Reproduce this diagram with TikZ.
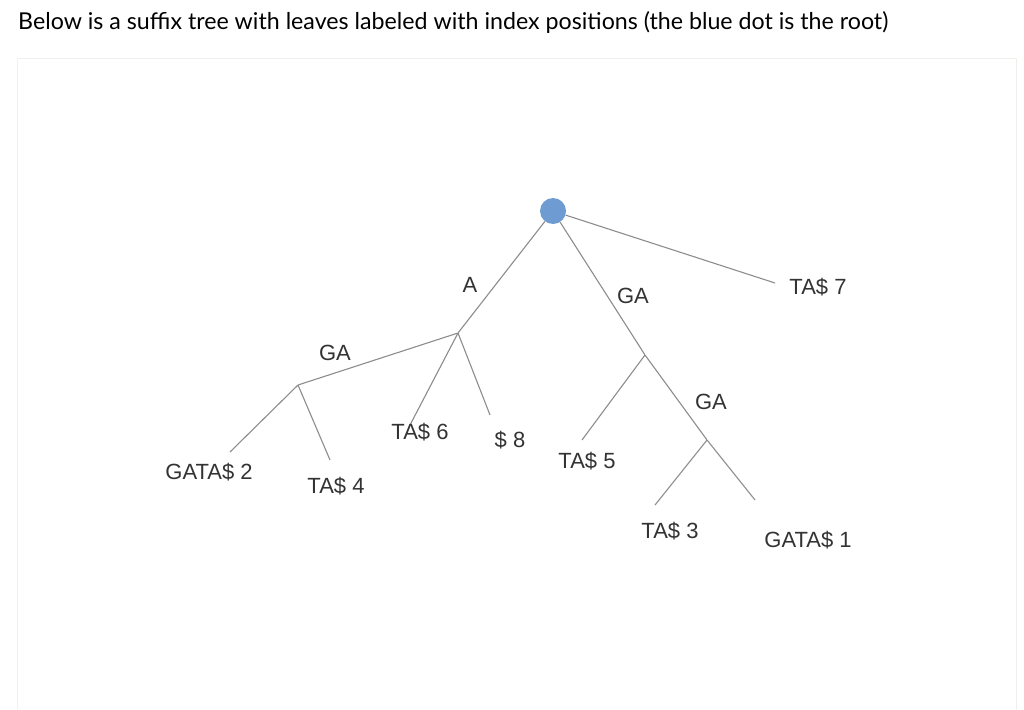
\documentclass[tikz,border=0pt]{standalone}
\usepackage{fontspec}
\setmainfont{Liberation Sans}
\newfontfamily\titlefont{Lato}
\begin{document}
\begin{tikzpicture}[x=1pt,y=-1pt,
  edge/.style={draw=gray!90,line width=1.1pt},
  lbl/.style={font=\fontsize{22}{24}\selectfont,text=black!80,inner sep=0pt},
  pt/.style={inner sep=0pt,minimum size=0pt}]
\useasboundingbox (0,0) rectangle (1024,709);
\node[anchor=west,inner sep=0pt,font=\titlefont\fontsize{23.2}{26}\selectfont] (title) at (18,22) {Below is a suffix tree with leaves labeled with index positions (the blue dot is the root)};
\draw[draw=yellow!10!gray!15,line width=0.8pt] (17,58) rectangle (1016,712);
\node[circle,fill={rgb,255:red,110;green,155;blue,210},minimum size=26pt,inner sep=0pt] (root) at (553,211) {};
\node[pt] (a) at (458,333) {};
\node[pt] (ga) at (645,355) {};
\node[pt] (ga2) at (707,440) {};
\node[pt] (aga) at (298,385) {};
\coordinate (t7) at (775,283);
\coordinate (l2) at (230,452);
\coordinate (l4) at (330,460);
\coordinate (l6) at (410,425);
\coordinate (l8) at (490,415);
\coordinate (l5) at (582,440);
\coordinate (l3) at (655,505);
\coordinate (l1) at (755,500);
\draw[edge] (root) -- (a);
\draw[edge] (root) -- (ga);
\draw[edge] (root) -- (t7);
\draw[edge] (a) -- (aga);
\draw[edge] (aga) -- (l2);
\draw[edge] (aga) -- (l4);
\draw[edge] (a) -- (l6);
\draw[edge] (a) -- (l8);
\draw[edge] (ga) -- (l5);
\draw[edge] (ga) -- (ga2);
\draw[edge] (ga2) -- (l3);
\draw[edge] (ga2) -- (l1);
\node[lbl] (la) at (470,285) {A};
\node[lbl] (lga) at (633,296) {GA};
\node[lbl] (lt7) at (818,287) {TA\$\ 7};
\node[lbl] (laga) at (335,353) {GA};
\node[lbl] (lg2) at (209,472) {GATA\$\ 2};
\node[lbl] (lt4) at (336,486) {TA\$\ 4};
\node[lbl] (lt6) at (420,432) {TA\$\ 6};
\node[lbl] (ld8) at (510,440) {\$\ 8};
\node[lbl] (lt5) at (587,461) {TA\$\ 5};
\node[lbl] (lga2) at (711,402) {GA};
\node[lbl] (lt3) at (670,531) {TA\$\ 3};
\node[lbl] (lg1) at (808,540) {GATA\$\ 1};
\end{tikzpicture}
\end{document}
